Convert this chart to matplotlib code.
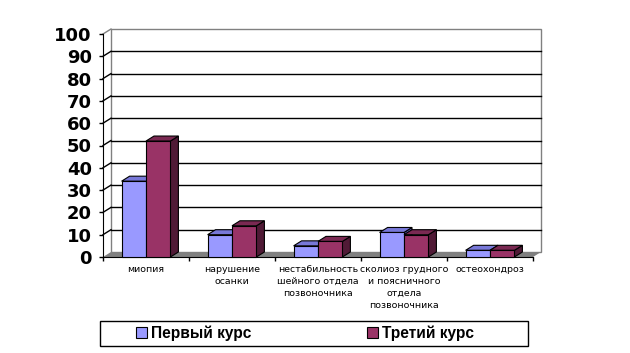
import matplotlib
matplotlib.use("Agg")
import matplotlib.pyplot as plt
from matplotlib.patches import Polygon, Rectangle, Patch

# ---- data ----
categories = ["миопия", "нарушение\nосанки", "нестабильность\nшейного отдела\nпозвоночника",
              "сколиоз грудного\nи поясничного\nотдела\nпозвоночника", "остеохондроз"]
series_names = ["Первый курс", "Третий курс"]
first_course = [34, 10, 5, 11, 3]
third_course = [52, 14, 7, 10, 3]
y_ticks = list(range(0, 101, 10))

front_colors = ["#9999FF", "#993366"]
top_colors = ["#7878D8", "#7A2952"]
side_colors = ["#5C5CB8", "#501A36"]

W, H = 630, 353
fig = plt.figure(figsize=(W / 100, H / 100), dpi=100)
fig.patch.set_facecolor("white")

ax_l, ax_r, ax_b, ax_t = 103, 533, 257, 34
ax = fig.add_axes([ax_l / W, (H - ax_b) / H, (ax_r - ax_l) / W, (ax_b - ax_t) / H])
ax.set_xlim(-0.5, 4.5)
ax.set_ylim(0, 100)
ax.patch.set_visible(False)

# depth offset (in data units) for the pseudo-3D effect
px_per_x = (ax_r - ax_l) / 5.0
px_per_y = (ax_b - ax_t) / 100.0
dxd = 8 / px_per_x
dyd = 5 / px_per_y

gray = "#808080"
x0, x1 = -0.5, 4.5

# back wall
ax.add_patch(Rectangle((x0 + dxd, dyd), 5, 100, facecolor="white", edgecolor=gray,
                       lw=1, zorder=0.5, clip_on=False))
# gridlines on back wall and side wall
for v in y_ticks[1:-1]:
    ax.plot([x0 + dxd, x1 + dxd], [v + dyd] * 2, color="black", lw=1, zorder=0.6, clip_on=False)
    ax.plot([x0, x0 + dxd], [v, v + dyd], color="black", lw=1, zorder=0.6, clip_on=False)
ax.plot([x0, x0 + dxd], [100, 100 + dyd], color=gray, lw=1, zorder=0.6, clip_on=False)

# floor
ax.add_patch(Polygon([(x0, 0), (x1, 0), (x1 + dxd, dyd), (x0 + dxd, dyd)], closed=True,
                     facecolor=gray, edgecolor="none", zorder=1, clip_on=False))

# bars
bw = 24.4 / px_per_x
z = 3
for i in range(len(categories)):
    for j, vals in enumerate([first_course, third_course]):
        h = vals[i]
        xa = i - bw + j * bw
        xb = xa + bw
        ax.add_patch(Polygon([(xb, 0), (xb + dxd, dyd), (xb + dxd, h + dyd), (xb, h)], closed=True,
                             facecolor=side_colors[j], edgecolor="black", lw=0.8, zorder=z, clip_on=False))
        ax.add_patch(Polygon([(xa, h), (xb, h), (xb + dxd, h + dyd), (xa + dxd, h + dyd)], closed=True,
                             facecolor=top_colors[j], edgecolor="black", lw=0.8, zorder=z, clip_on=False))
        ax.bar([xa], [h], width=bw, align="edge", color=front_colors[j], edgecolor="black",
               lw=0.8, zorder=z + 0.1, clip_on=False)
        z += 1

# axes / ticks
for s in ["top", "right"]:
    ax.spines[s].set_visible(False)
ax.spines["left"].set_color("black")
ax.spines["bottom"].set_color("black")
ax.spines["left"].set_zorder(2)
ax.spines["bottom"].set_zorder(2)

ax.set_yticks(y_ticks)
ax.set_yticklabels([str(v) for v in y_ticks], fontsize=13, fontweight="bold", family="DejaVu Sans")
ax.tick_params(axis="y", direction="out", length=3, width=1, pad=5)

ax.set_xticks([k - 0.5 for k in range(len(categories) + 1)])
ax.set_xticklabels([])
ax.tick_params(axis="x", which="major", direction="out", length=3, width=1)
ax.set_xticks(range(len(categories)), minor=True)
ax.set_xticklabels(categories, minor=True, fontsize=6.75, family="DejaVu Sans",
                   linespacing=1.42, va="top")
ax.tick_params(axis="x", which="minor", length=0, pad=6)

# legend
fig.add_artist(Rectangle((100 / W, (H - 346) / H), 428 / W, 25 / H, transform=fig.transFigure,
                         facecolor="white", edgecolor="black", lw=1))
handles = [Patch(facecolor=front_colors[k], edgecolor="black", lw=0.8) for k in range(2)]
fig.legend(handles, series_names, ncol=2, frameon=False, loc="center left",
           bbox_to_anchor=(136 / W, (H - 333.5) / H), borderpad=0, borderaxespad=0,
           handlelength=0.7, handleheight=0.7, handletextpad=0.25, columnspacing=7.45,
           prop={"family": "Liberation Sans", "weight": "bold", "size": 11.2})

fig.savefig("out.png", dpi=100)
